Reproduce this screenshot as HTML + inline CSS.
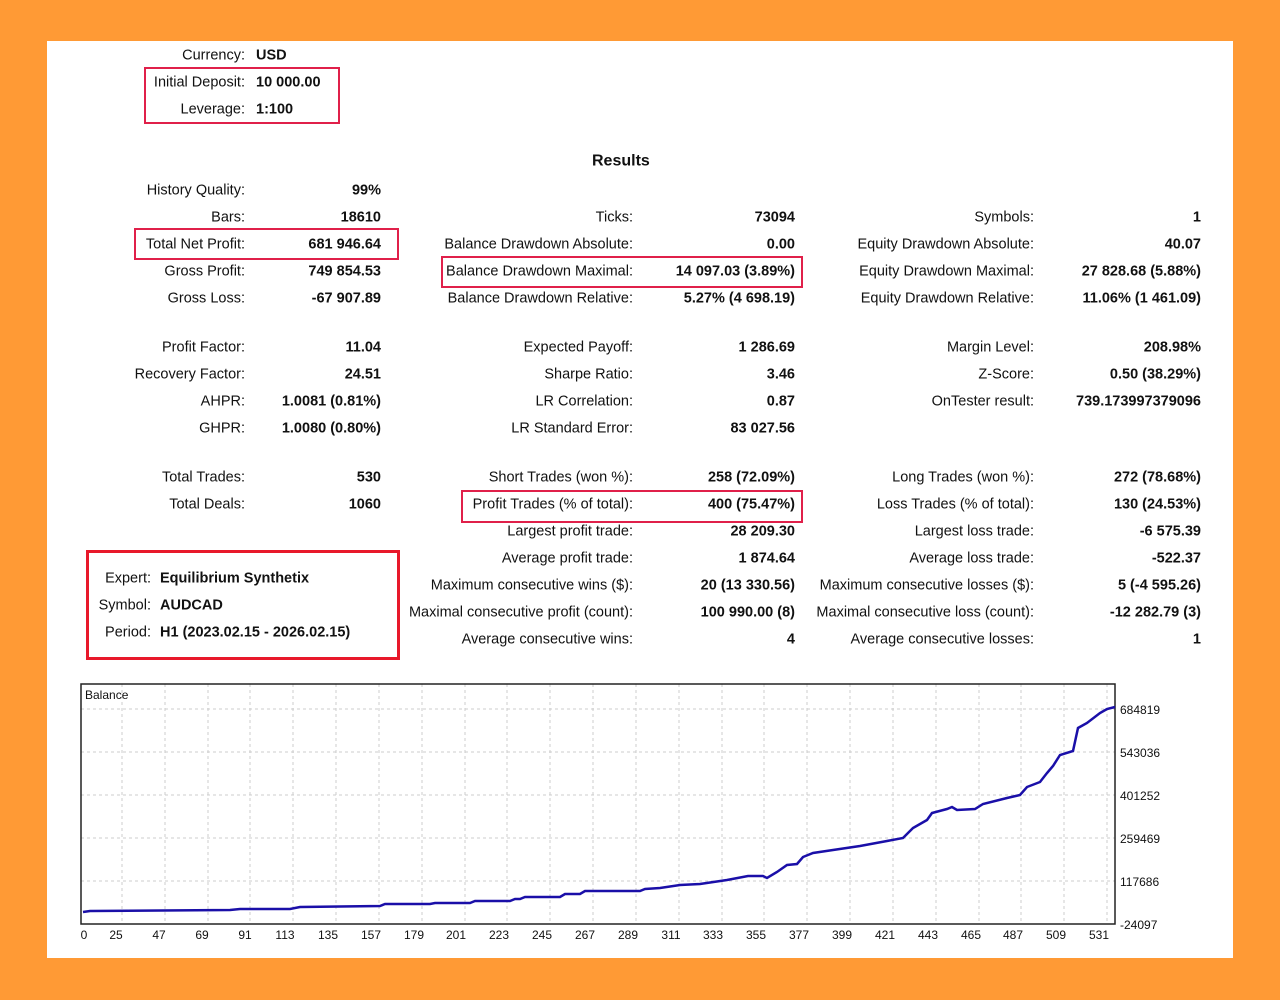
<!DOCTYPE html>
<html><head><meta charset="utf-8"><style>
body{margin:0;width:1280px;height:1000px;background:#FF9A35;position:relative;overflow:hidden;font-family:"Liberation Sans","DejaVu Sans",sans-serif;font-size:14.5px;color:#111}
#w{position:absolute;left:47px;top:41px;width:1186px;height:917px;background:#fff}
.t{position:absolute;white-space:nowrap;line-height:18px;transform:translateY(-7.5px)}
.l{text-align:right}
.b{font-weight:bold}
.box{position:absolute;border:2px solid #E0204A}
</style></head><body>
<div id="w"></div>
<div class="box" style="left:144px;top:67px;width:192px;height:53px"></div>
<div class="box" style="left:134px;top:228px;width:261px;height:28px"></div>
<div class="box" style="left:441px;top:256px;width:358px;height:28px"></div>
<div class="box" style="left:461px;top:490px;width:338px;height:29px"></div>
<div class="box" style="left:86px;top:550px;width:308px;height:104px;border:3.5px solid #E8182A"></div>
<svg width="1280" height="1000" style="position:absolute;left:0;top:0" font-family="Liberation Sans, DejaVu Sans, sans-serif" font-size="12">
<g stroke="#ccc" stroke-dasharray="3,3" stroke-width="1">
<line x1="81" x2="1115" y1="709" y2="709"/><line x1="81" x2="1115" y1="752" y2="752"/><line x1="81" x2="1115" y1="795" y2="795"/><line x1="81" x2="1115" y1="838" y2="838"/><line x1="81" x2="1115" y1="881" y2="881"/>
<line x1="122" x2="122" y1="684" y2="924"/><line x1="165" x2="165" y1="684" y2="924"/><line x1="208" x2="208" y1="684" y2="924"/><line x1="250" x2="250" y1="684" y2="924"/><line x1="293" x2="293" y1="684" y2="924"/><line x1="336" x2="336" y1="684" y2="924"/><line x1="379" x2="379" y1="684" y2="924"/><line x1="422" x2="422" y1="684" y2="924"/><line x1="465" x2="465" y1="684" y2="924"/><line x1="507" x2="507" y1="684" y2="924"/><line x1="550" x2="550" y1="684" y2="924"/><line x1="593" x2="593" y1="684" y2="924"/><line x1="636" x2="636" y1="684" y2="924"/><line x1="679" x2="679" y1="684" y2="924"/><line x1="722" x2="722" y1="684" y2="924"/><line x1="764" x2="764" y1="684" y2="924"/><line x1="807" x2="807" y1="684" y2="924"/><line x1="850" x2="850" y1="684" y2="924"/><line x1="893" x2="893" y1="684" y2="924"/><line x1="936" x2="936" y1="684" y2="924"/><line x1="979" x2="979" y1="684" y2="924"/><line x1="1021" x2="1021" y1="684" y2="924"/><line x1="1064" x2="1064" y1="684" y2="924"/><line x1="1107" x2="1107" y1="684" y2="924"/>
</g>
<rect x="81" y="684" width="1034" height="240" fill="none" stroke="#222" stroke-width="1.5"/>
<text x="85" y="699" fill="#111">Balance</text>
<polyline fill="none" stroke="#1a0fa8" stroke-width="2.5" points="83,912 90,911 230,910 240,909 290,909 300,907 380,906 385,904 430,904 435,903 470,903 475,901 510,901 515,899 520,899 525,897 560,897 565,894 580,894 585,891 640,891 645,889 660,888 680,885 700,884 727,880 748,876 763,876 767,878 777,872 787,865 797,864 803,857 813,853 833,850 860,846 887,841 903,838 913,828 927,820 932,813 947,809 952,807 957,810 975,809 983,804 1007,798 1020,795 1027,787 1040,782 1047,773 1053,766 1060,755 1073,751 1078,728 1087,723 1100,713 1107,709 1115,707"/>
<g fill="#111">
<text x="1120" y="714">684819</text><text x="1120" y="757">543036</text><text x="1120" y="800">401252</text><text x="1120" y="843">259469</text><text x="1120" y="886">117686</text><text x="1120" y="929">-24097</text>
</g>
<g fill="#111" text-anchor="middle">
<text x="84" y="939">0</text><text x="116" y="939">25</text><text x="159" y="939">47</text><text x="202" y="939">69</text><text x="245" y="939">91</text><text x="285" y="939">113</text><text x="328" y="939">135</text><text x="371" y="939">157</text><text x="414" y="939">179</text><text x="456" y="939">201</text><text x="499" y="939">223</text><text x="542" y="939">245</text><text x="585" y="939">267</text><text x="628" y="939">289</text><text x="671" y="939">311</text><text x="713" y="939">333</text><text x="756" y="939">355</text><text x="799" y="939">377</text><text x="842" y="939">399</text><text x="885" y="939">421</text><text x="928" y="939">443</text><text x="971" y="939">465</text><text x="1013" y="939">487</text><text x="1056" y="939">509</text><text x="1099" y="939">531</text>
</g>
</svg>
<div id="txt"></div>
<script>
var L=[[245,381],[633,795],[1034,1201]];
var rows=[
[0,189,"History Quality:","99%"],[0,216,"Bars:","18610"],[0,243,"Total Net Profit:","681 946.64"],[0,270,"Gross Profit:","749 854.53"],[0,297,"Gross Loss:","-67 907.89"],
[1,216,"Ticks:","73094"],[1,243,"Balance Drawdown Absolute:","0.00"],[1,270,"Balance Drawdown Maximal:","14 097.03 (3.89%)"],[1,297,"Balance Drawdown Relative:","5.27% (4 698.19)"],
[2,216,"Symbols:","1"],[2,243,"Equity Drawdown Absolute:","40.07"],[2,270,"Equity Drawdown Maximal:","27 828.68 (5.88%)"],[2,297,"Equity Drawdown Relative:","11.06% (1 461.09)"],
[0,346,"Profit Factor:","11.04"],[0,373,"Recovery Factor:","24.51"],[0,400,"AHPR:","1.0081 (0.81%)"],[0,427,"GHPR:","1.0080 (0.80%)"],
[1,346,"Expected Payoff:","1 286.69"],[1,373,"Sharpe Ratio:","3.46"],[1,400,"LR Correlation:","0.87"],[1,427,"LR Standard Error:","83 027.56"],
[2,346,"Margin Level:","208.98%"],[2,373,"Z-Score:","0.50 (38.29%)"],[2,400,"OnTester result:","739.173997379096"],
[0,476,"Total Trades:","530"],[0,503,"Total Deals:","1060"],
[1,476,"Short Trades (won %):","258 (72.09%)"],[1,503,"Profit Trades (% of total):","400 (75.47%)"],[1,530,"Largest profit trade:","28 209.30"],[1,557,"Average profit trade:","1 874.64"],[1,584,"Maximum consecutive wins ($):","20 (13 330.56)"],[1,611,"Maximal consecutive profit (count):","100 990.00 (8)"],[1,638,"Average consecutive wins:","4"],
[2,476,"Long Trades (won %):","272 (78.68%)"],[2,503,"Loss Trades (% of total):","130 (24.53%)"],[2,530,"Largest loss trade:","-6 575.39"],[2,557,"Average loss trade:","-522.37"],[2,584,"Maximum consecutive losses ($):","5 (-4 595.26)"],[2,611,"Maximal consecutive loss (count):","-12 282.79 (3)"],[2,638,"Average consecutive losses:","1"]];
var h="";
rows.forEach(function(r){var c=L[r[0]];
h+='<div class="t l" style="right:'+(1280-c[0])+'px;top:'+r[1]+'px">'+r[2]+'</div>';
h+='<div class="t l b" style="right:'+(1280-c[1])+'px;top:'+r[1]+'px">'+r[3]+'</div>';});
[[54,"Currency:","USD"],[81,"Initial Deposit:","10 000.00"],[108,"Leverage:","1:100"]].forEach(function(r){
h+='<div class="t l" style="right:'+(1280-245)+'px;top:'+r[0]+'px">'+r[1]+'</div><div class="t b" style="left:256px;top:'+r[0]+'px">'+r[2]+'</div>';});
[[577,"Expert:","Equilibrium Synthetix"],[604,"Symbol:","AUDCAD"],[631,"Period:","H1 (2023.02.15 - 2026.02.15)"]].forEach(function(r){
h+='<div class="t l" style="right:'+(1280-151)+'px;top:'+r[0]+'px">'+r[1]+'</div><div class="t b" style="left:160px;top:'+r[0]+'px">'+r[2]+'</div>';});
h+='<div class="t b" style="left:592px;top:160px;font-size:16px">Results</div>';
document.getElementById("txt").innerHTML=h;
</script>
</body></html>
